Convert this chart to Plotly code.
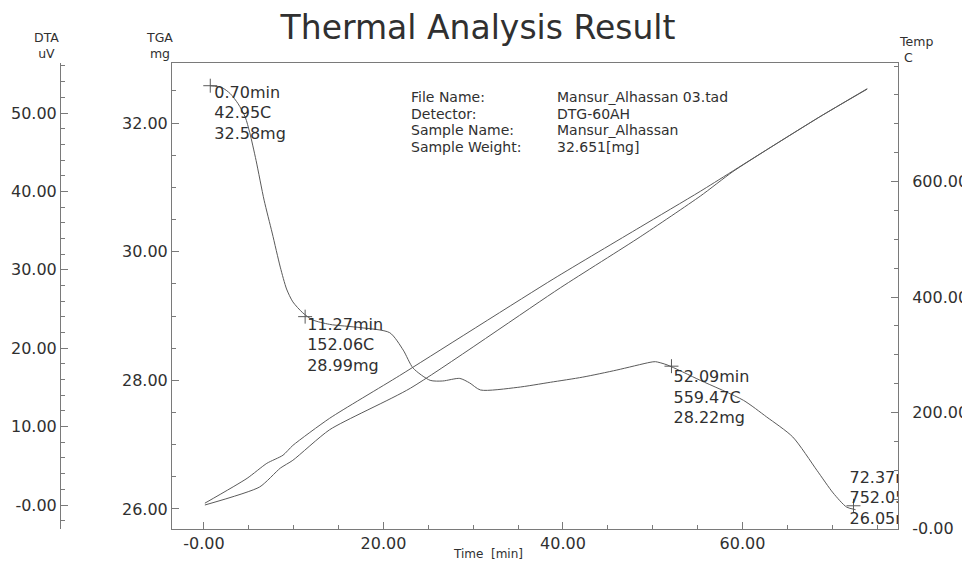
import plotly.graph_objects as go

# ---------------- data ----------------
tga_time = [0.70, 2.0, 2.9, 3.8, 4.6, 5.1, 5.8, 6.7, 7.6, 8.5, 9.2, 9.9, 11.0, 12.1,
            14.0, 17.4, 20.7, 22.2, 23.3, 25.2, 26.6, 28.5, 29.6, 30.8, 34.9, 38.6,
            42.2, 46.0, 49.7, 50.3, 51.6, 55.3, 60.1, 62.7, 65.6, 68.3, 70.1, 71.6, 72.6]
tga_mass = [32.58, 32.55, 32.46, 32.30, 32.09, 31.85, 31.42, 30.80, 30.29, 29.76, 29.42,
            29.22, 29.05, 28.94, 28.87, 28.82, 28.74, 28.47, 28.19, 28.00, 27.99, 28.03,
            27.96, 27.85, 27.89, 27.97, 28.05, 28.16, 28.28, 28.29, 28.24, 28.00, 27.69,
            27.43, 27.12, 26.60, 26.25, 26.03, 25.99]

temp_time = [0.1, 4.8, 7.0, 8.8, 9.9, 14.0, 21.8, 38.9, 48.6, 55.3, 62.7, 68.6, 73.9]
temp_c = [43, 86, 112, 126, 143, 190, 264, 431, 521, 583, 655, 712, 760]

dta_time = [0.1, 6.2, 8.5, 9.9, 14.0, 23.0, 39.7, 48.6, 55.3, 58.9, 62.7, 68.6, 73.9]
dta_uv = [0.0, 2.3, 4.7, 5.7, 9.6, 14.9, 27.7, 34.2, 39.4, 42.5, 45.3, 49.5, 53.1]

marker_time = [0.70, 11.27, 52.09, 72.37]
marker_temp = [42.95, 152.06, 559.47, 752.05]
marker_mass = [32.58, 28.99, 28.22, 26.05]

x_ticks = [0, 20, 40, 60]
x_ticktext = ["-0.00", "20.00", "40.00", "60.00"]
tga_ticks = [26, 28, 30, 32]
tga_ticktext = ["26.00", "28.00", "30.00", "32.00"]
dta_ticks = [0, 10, 20, 30, 40, 50]
dta_ticktext = ["-0.00", "10.00", "20.00", "30.00", "40.00", "50.00"]
temp_ticks = [0, 200, 400, 600]
temp_ticktext = ["-0.00", "200.00", "400.00", "600.00"]

info_keys = ["File Name:", "Detector:", "Sample Name:", "Sample Weight:"]
info_vals = ["Mansur_Alhassan 03.tad", "DTG-60AH", "Mansur_Alhassan", "32.651[mg]"]

# ---------------- layout geometry ----------------
# the page body has an 8px margin, so the figure is drawn 8px smaller and
# every target pixel position (window coordinates) is shifted by OFF.
OFF = 8
W, H = 970 - OFF, 563 - OFF
TOP_PX, BOT_PX = 63, 529          # window pixel rows of the plot box
PX_L, PX_R = 172, 898             # window pixel columns of the plot box
M_T = TOP_PX - OFF
M_B = (563 - BOT_PX)
X_RANGE = [-3.565, 77.33]
Y_RANGE = [25.689, 32.933]
DTA_RANGE = [-3.061, 56.378]
TEMP_RANGE = [-1.72, 805.2]
inner_h = H - M_T - M_B

px_per_x = (PX_R - PX_L) / (X_RANGE[1] - X_RANGE[0])
px_per_y = inner_h / (Y_RANGE[1] - Y_RANGE[0])


def paper_x(px):
    return (px - OFF) / W


def paper_y(py):
    return (BOT_PX - py) / inner_h


FONT = "DejaVu Sans"
TXT = "#303030"
LINE = "#5a5a5a"
AX = "#7a7a7a"

fig = go.Figure()

fig.add_trace(go.Scatter(x=temp_time, y=temp_c, yaxis="y3", mode="lines",
                         line=dict(color=LINE, width=1, shape="spline", smoothing=0.6),
                         showlegend=False))
fig.add_trace(go.Scatter(x=dta_time, y=dta_uv, yaxis="y2", mode="lines",
                         line=dict(color=LINE, width=1, shape="spline", smoothing=0.6),
                         showlegend=False))
fig.add_trace(go.Scatter(x=tga_time, y=tga_mass, yaxis="y", mode="lines",
                         line=dict(color=LINE, width=1, shape="spline", smoothing=0.7),
                         showlegend=False))
fig.add_trace(go.Scatter(x=marker_time, y=marker_mass, yaxis="y", mode="markers",
                         marker=dict(symbol="cross-thin", size=10,
                                     line=dict(color=LINE, width=1)),
                         showlegend=False))

# marker labels (text offsets in pixels from the marker point)
offsets = [(4, 8), (2, 9), (2, 12), (-4, -27)]
spacing = 20.5
for t, c, m, (ox, oy) in zip(marker_time, marker_temp, marker_mass, offsets):
    lines = [f"{t:.2f}min", f"{c:.2f}C", f"{m:.2f}mg"]
    xs = [t + ox / px_per_x] * 3
    ys = [m - (oy + i * spacing) / px_per_y for i in range(3)]
    fig.add_trace(go.Scatter(x=xs, y=ys, yaxis="y", mode="text", text=lines,
                             textposition="middle right", cliponaxis=True,
                             textfont=dict(family=FONT, size=16, color=TXT),
                             showlegend=False, hoverinfo="skip"))

annotations = []
# info block: one annotation per line, 16.5px line pitch
info_y = [97, 113.5, 130, 146.5]
for k, v, py in zip(info_keys, info_vals, info_y):
    for txt, px in [(k, 410), (v, 556)]:
        annotations.append(dict(x=paper_x(px), y=paper_y(py), xref="paper", yref="paper",
                                text=txt, showarrow=False, xanchor="left",
                                yanchor="middle", borderpad=0,
                                font=dict(family=FONT, size=14, color=TXT)))

# axis titles (two-line)
for txt, px, py, anchor in [("DTA<br>uV", 46, 45.5, "center"),
                            ("TGA<br>mg", 159, 45.5, "center"),
                            ("Temp<br> C", 897, 49.5, "left")]:
    annotations.append(dict(x=paper_x(px), y=paper_y(py), xref="paper", yref="paper",
                            text=txt, showarrow=False, xanchor=anchor, yanchor="middle",
                            align=anchor, font=dict(family=FONT, size=12.5, color=TXT)))
annotations.append(dict(x=paper_x(488), y=paper_y(554), xref="paper", yref="paper",
                        text="Time  [min]", showarrow=False, xanchor="center",
                        yanchor="middle", font=dict(family=FONT, size=12, color=TXT)))

tickfont = dict(family=FONT, size=16, color=TXT)

fig.update_layout(
    width=W, height=H,
    margin=dict(l=0, r=0, t=M_T, b=M_B),
    paper_bgcolor="white", plot_bgcolor="white",
    title=dict(text="Thermal Analysis Result", x=(478 - OFF) / W, xanchor="center",
               y=1 - (27 - OFF) / H, yanchor="middle", yref="container",
               font=dict(family=FONT, size=33, color=TXT)),
    xaxis=dict(domain=[(PX_L - OFF) / W, (PX_R - OFF) / W], range=X_RANGE,
               showgrid=False, zeroline=False,
               showline=True, linecolor=AX, linewidth=1, mirror=True,
               tickmode="array", tickvals=x_ticks, ticktext=x_ticktext,
               ticks="inside", ticklen=7, tickcolor=AX, tickfont=tickfont,
               minor=dict(tickmode="linear", tick0=0, dtick=5, ticks="inside",
                          ticklen=4, tickcolor=AX)),
    yaxis=dict(range=Y_RANGE, showgrid=False, zeroline=False, anchor="x", side="left",
               showline=True, linecolor=AX, linewidth=1,
               tickmode="array", tickvals=tga_ticks, ticktext=tga_ticktext,
               ticks="inside", ticklen=7, tickcolor=AX, tickfont=tickfont,
               minor=dict(tickmode="linear", tick0=0, dtick=0.5, ticks="inside",
                          ticklen=4, tickcolor=AX)),
    yaxis2=dict(range=DTA_RANGE, overlaying="y", anchor="free", position=(60 - OFF) / W,
                side="left", showgrid=False, zeroline=False,
                showline=True, linecolor=AX, linewidth=1,
                tickmode="array", tickvals=dta_ticks, ticktext=dta_ticktext,
                ticks="inside", ticklen=7, tickcolor=AX, tickfont=tickfont,
                minor=dict(tickmode="linear", tick0=0, dtick=2, ticks="inside",
                           ticklen=4, tickcolor=AX)),
    yaxis3=dict(range=TEMP_RANGE, overlaying="y", anchor="x", side="right",
                showgrid=False, zeroline=False,
                showline=True, linecolor=AX, linewidth=1,
                tickmode="array", tickvals=temp_ticks, ticktext=temp_ticktext,
                ticks="inside", ticklen=7, tickcolor=AX, tickfont=tickfont,
                ticklabelstandoff=10,
                minor=dict(tickmode="linear", tick0=0, dtick=50, ticks="inside",
                           ticklen=4, tickcolor=AX)),
    annotations=annotations,
)

fig.write_html("out.html")
